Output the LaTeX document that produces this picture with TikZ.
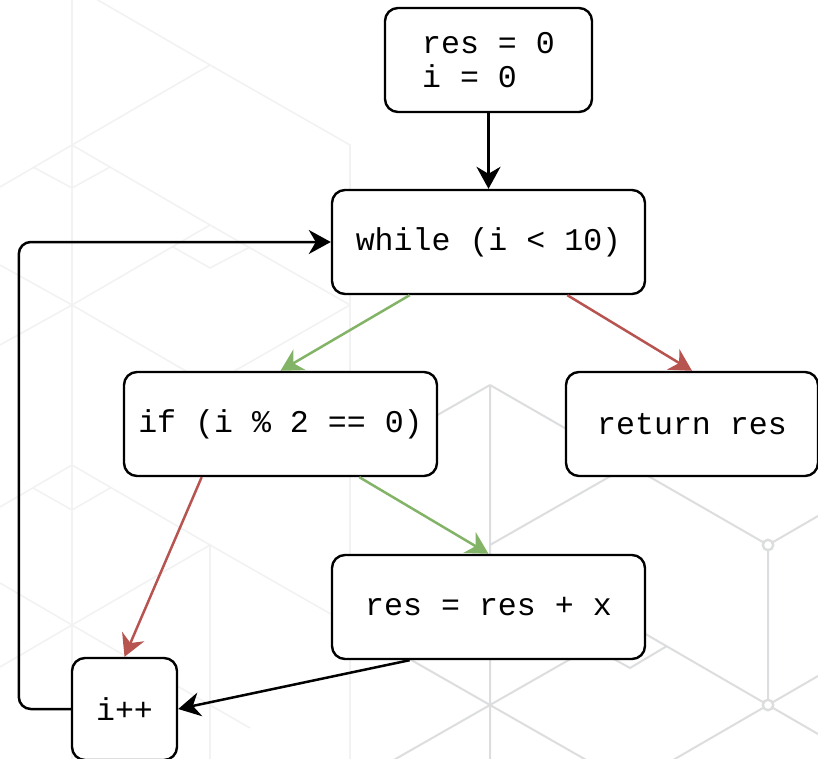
\documentclass[tikz,border=0pt]{standalone}
\usepackage{fontspec}
\setmonofont{Liberation Mono}
\usepackage{tikz}
\usetikzlibrary{positioning,arrows.meta,calc}
\definecolor{yesgreen}{HTML}{82B366}
\definecolor{nored}{HTML}{B85450}
\definecolor{hexline}{HTML}{DCDDDF}
\definecolor{hexfaint}{HTML}{F2F2F2}
\tikzset{
  block/.style={draw=black, fill=white, line width=1.2pt, rounded corners=6.5pt,
    minimum width=156.5pt, minimum height=52pt, inner sep=0pt,
    font=\ttfamily\fontsize{15.8}{17}\selectfont},
  flow/.style={draw=black, line width=1.25pt,
    -{Stealth[length=11pt, width=12pt, inset=3.5pt]}},
  yesedge/.style={flow, draw=yesgreen, fill=yesgreen, line width=1.25pt},
  noedge/.style={flow, draw=nored, fill=nored, line width=1.25pt},
  bgfaint/.style={draw=hexfaint, line width=0.8pt},
  bgline/.style={draw=hexline, line width=1pt}
}
\begin{document}
\begin{tikzpicture}[x=0.5pt, y=-0.5pt]
  \useasboundingbox (0,0) rectangle (818,759);

  % backdrop
  \begin{scope}
    \clip (0,0) rectangle (818,759);
    \draw[bgfaint] (72,0) -- (72,759)
      (72,-15) -- (210,65) -- (350,145) -- (350,759)
      (210,65) -- (72,145) -- (0,187)
      (72,145) -- (210,225) -- (350,305)
      (33,167) -- (72,188) -- (110,167)
      (173,247) -- (210,268) -- (250,247)
      (0,265) -- (72,305) -- (0,345)
      (72,305) -- (210,225)
      (72,305) -- (210,385) -- (350,305)
      (72,465) -- (0,507)
      (72,465) -- (210,545) -- (350,625)
      (33,488) -- (72,510) -- (110,488)
      (0,583) -- (72,625) -- (0,667)
      (72,625) -- (210,545) -- (210,759)
      (72,625) -- (210,705) -- (250,728);
    \draw[bgline] (490,385) -- (768,545) -- (768,705)
      (768,545) -- (818,516)
      (818,734) -- (768,705) -- (818,676)
      (630,625) -- (768,705) -- (630,785)
      (667,646) -- (630,668) -- (612,658)
      (490,385) -- (350,465)
      (490,385) -- (490,759)
      (490,545) -- (630,465)
      (350,625) -- (490,705) -- (630,625)
      (350,785) -- (490,705) -- (630,785);
    \filldraw[draw=hexline, fill=white, line width=1.2pt] (768,545) circle (2.6pt);
    \filldraw[draw=hexline, fill=white, line width=1.2pt] (768,705) circle (2.6pt);
  \end{scope}

  \node[block, minimum width=103.5pt, align=left] (init) at (488.5,60) {res = 0\\i = 0};
  \node[block, below=37.8pt of init] (while) {while (i < 10)};
  \node[block, below=37.8pt of while, xshift=-104pt] (if) {if (i \% 2 == 0)};
  \node[block, minimum width=126pt, below=37.8pt of while, xshift=101.75pt] (ret) {return res};
  \node[block, below=38.3pt of if, xshift=104pt] (res) {res = res + x};
  \node[block, minimum width=52.5pt, minimum height=51pt, below=89.8pt of if, xshift=-78pt] (inc) {i++};
  \coordinate[left=26pt of inc.west] (loop);

  \draw[flow] (init) -- (while);
  % branches of the loop test
  \draw[yesedge] ($(while.south west)!0.25!(while.south east)$) -- (if.north);
  \draw[noedge]  ($(while.south west)!0.75!(while.south east)$) -- (ret.north);
  % branches of the if
  \draw[noedge]  ($(if.south west)!0.25!(if.south east)$) -- (inc.north);
  \draw[yesedge] ($(if.south west)!0.75!(if.south east)$) -- (res.north);
  \draw[flow] ($(res.south west)!0.25!(res.south east)$) -- (inc.east);
  % back to the test
  \draw[flow, rounded corners=6pt] (inc.west) -- (loop) |- (while.west);

\end{tikzpicture}
\end{document}
